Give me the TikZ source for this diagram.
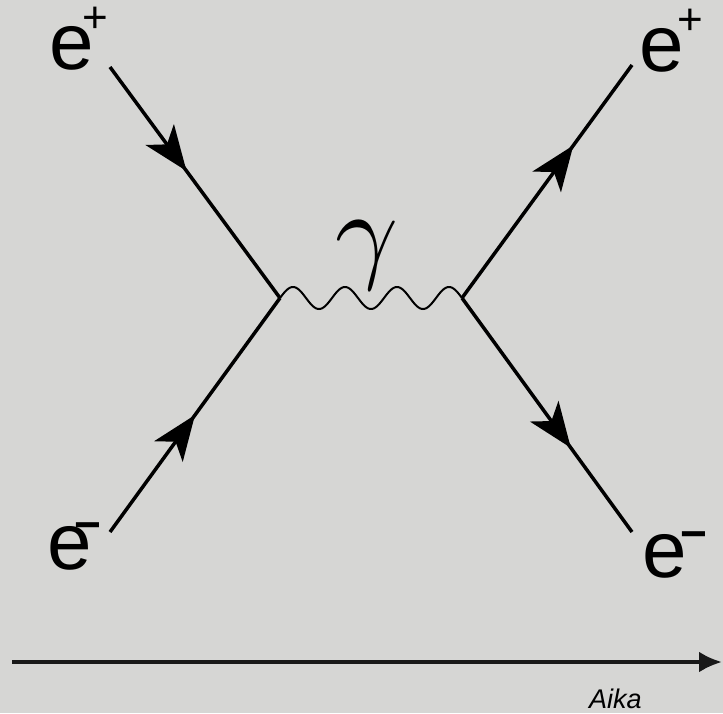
\documentclass[tikz,border=0pt]{standalone}
\usepackage{graphicx}
\usepackage{fontspec}
\setmainfont{Liberation Sans}
\usetikzlibrary{arrows.meta,decorations.markings}
\definecolor{bg}{RGB}{214,214,212}
\tikzset{
  fermion/.style={line width=3.5pt, line cap=butt, postaction={decorate},
    decoration={markings, mark=at position #1 with {\arrow{Stealth[length=45pt,width=35pt,inset=12pt]}}}},
  photon/.style={line width=2pt},
  lab/.style={anchor=base west, inner sep=0pt, font=\fontsize{80}{80}\selectfont},
  axis/.style={line width=4pt, color=black!90, -{Latex[length=23pt,width=21pt]}},
}
\newcommand\supplus{{\fontsize{44}{44}\selectfont +}}
\newcommand\supminus{{\fontsize{46}{46}\selectfont\bfseries −}}
\begin{document}
\begin{tikzpicture}[x=1pt,y=-1pt]
\fill[bg] (0,0) rectangle (723,713);
\useasboundingbox (0,0) rectangle (723,713);
% vertices and free ends
\coordinate (v1) at (280,298);
\coordinate (v2) at (462,298);
\coordinate (tl) at (110,67);
\coordinate (bl) at (110,532);
\coordinate (tr) at (632,65);
\coordinate (br) at (632,532);
% fermion lines
\draw[fermion=0.45] (tl) -- (v1);
\draw[fermion=0.50] (bl) -- (v1);
\draw[fermion=0.655] (v2) -- (tr);
\draw[fermion=0.64] (v2) -- (br);
% photon
\begin{scope}[shift={(v1)}]
\draw[photon] plot[domain=0:182, samples=160, smooth] (\x, {-11*sin(6.923077*\x)});
\end{scope}
\node[inner sep=0pt] (gamma) at (367,256) {\scalebox{11}{$\gamma$}};
% labels
\node[lab] (ltl) at (49,69) {e\kern-11pt\raisebox{37pt}[0pt][0pt]{\supplus}};
\node[lab] (ltr) at (639,71) {e\kern-6pt\raisebox{37pt}[0pt][0pt]{\supplus}};
\node[lab] (lbl) at (47,569) {e\kern-17pt\raisebox{29pt}[0pt][0pt]{\supminus}};
\node[lab] (lbr) at (642,577) {e\kern-6pt\raisebox{28pt}[0pt][0pt]{\supminus}};
% time axis
\coordinate (a0) at (12,662);
\coordinate (a1) at (722,662);
\draw[axis] (a0) -- (a1);
\node[anchor=base west, inner sep=0pt, font=\itshape\fontsize{27}{27}\selectfont] (aika) at (589,708) {Aika};
\end{tikzpicture}
\end{document}
